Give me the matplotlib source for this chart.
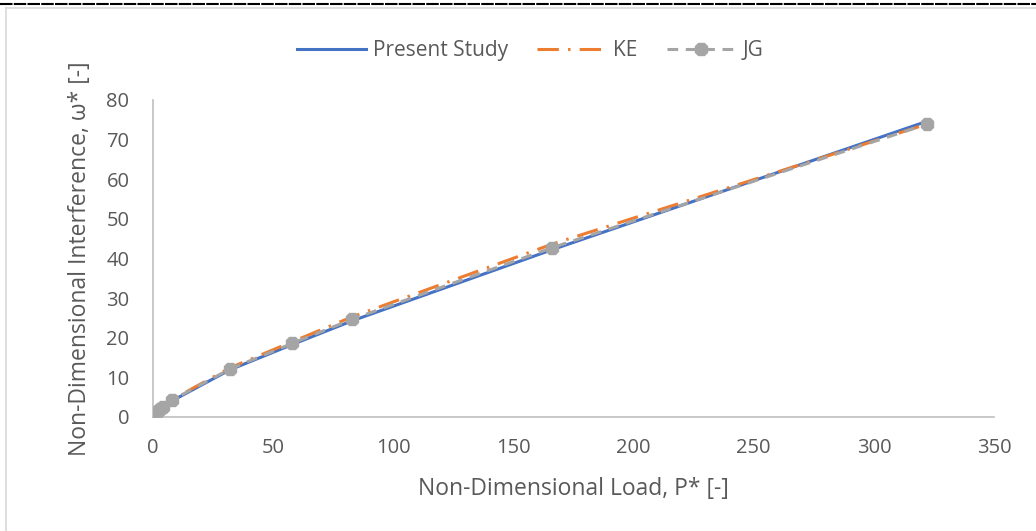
import matplotlib.pyplot as plt
from matplotlib.lines import Line2D


# shared load points (P*) used by every series
LOAD = [0, 0.5, 1, 2, 3, 4, 8, 32, 58, 83, 166, 322]
PRESENT_STUDY = [0, 0.5, 0.9, 1.5, 2.0, 2.5, 4.1, 11.9, 18.3, 24.3, 42.2, 74.6]
KE = [0, 0.6, 1.0, 1.7, 2.2, 2.7, 4.4, 12.4, 19.0, 25.3, 43.6, 73.9]
JG = [0, 0.6, 1.0, 1.6, 2.1, 2.6, 4.3, 12.1, 18.6, 24.7, 42.7, 73.9]

X_TICKS = [0, 50, 100, 150, 200, 250, 300, 350]
Y_TICKS = [0, 10, 20, 30, 40, 50, 60, 70, 80]

BLUE = "#4472C4"
ORANGE = "#ED7D31"
GRAY = "#A5A5A5"
TEXT = "#595959"
AXIS = "#BFBFBF"


def main():
	plt.rcParams["font.family"] = ["Open Sans", "DejaVu Sans"]
	fig = plt.figure(figsize=(10.36, 5.31), dpi=100)
	ax = fig.add_axes([0.1477, 0.2147, 0.9595 - 0.1477, 0.8117 - 0.2147])

	ax.plot(LOAD, PRESENT_STUDY, color=BLUE, linewidth=2.2, label="Present Study", zorder=2)
	ax.plot(LOAD, KE, color=ORANGE, linewidth=2.2, linestyle=(0, (7, 3, 0.8, 3)),
		label="KE", zorder=3)
	ax.plot(LOAD, JG, color=GRAY, linewidth=2.2, linestyle=(0, (3.5, 2.5)), marker="8",
		markersize=10, markeredgecolor=GRAY, label="JG", zorder=4)

	ax.set_xlim(0, 350)
	ax.set_ylim(0, 80)
	ax.set_xticks(X_TICKS)
	ax.set_yticks(Y_TICKS)
	ax.tick_params(axis="both", length=0, labelsize=14.5, labelcolor=TEXT)
	ax.tick_params(axis="x", pad=15)
	ax.tick_params(axis="y", pad=17)
	for side in ["top", "right"]:
		ax.spines[side].set_visible(False)
	for side in ["left", "bottom"]:
		ax.spines[side].set_color(AXIS)
		ax.spines[side].set_linewidth(1.2)

	ax.set_xlabel("Non-Dimensional Load, P* [-]", fontsize=16.5, color=TEXT, va="center")
	ax.set_ylabel("Non-Dimensional Interference, ω* [-]", fontsize=16.5, color=TEXT, va="center")
	ax.xaxis.set_label_coords(0.5, -0.228)
	ax.yaxis.set_label_coords(-0.087, 0.5)

	# legend sits centred on the whole chart, not on the plot area
	ax.legend(loc="center", bbox_to_anchor=(0.5116, 0.905), bbox_transform=fig.transFigure,
		ncol=3, frameon=False, fontsize=15, labelcolor=TEXT, handlelength=3.35,
		columnspacing=1.4, handletextpad=0.3)

	# chart frame and the dashed rule above it
	fig.add_artist(Line2D([0.006, 0.006], [0, 0.985], transform=fig.transFigure, color="#D9D9D9", linewidth=1.2))
	fig.add_artist(Line2D([0.006, 1.0], [0.985, 0.985], transform=fig.transFigure, color="#D9D9D9", linewidth=1.2))
	fig.add_artist(Line2D([0.0, 1.0], [0.993, 0.993], transform=fig.transFigure, color="black",
		linewidth=1.5, linestyle=(0, (6, 0.6))))

	fig.savefig("out.png", dpi=100)


if __name__ == "__main__":
	main()
